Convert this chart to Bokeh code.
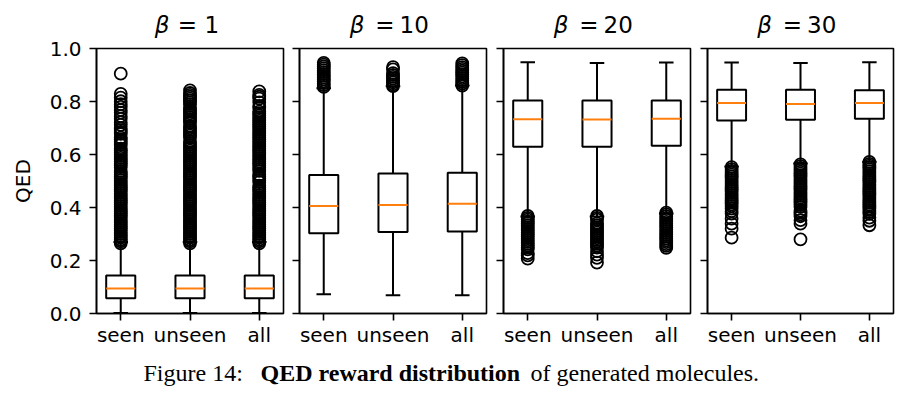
import numpy as np
from bokeh.plotting import figure
from bokeh.layouts import row, column
from bokeh.models import Range1d, FixedTicker, Label, CustomJSTickFormatter
from bokeh.embed import file_html
from bokeh.resources import INLINE

# ---------------- data ----------------
categories = ["seen", "unseen", "all"]
positions = [1, 2, 3]
betas = [1, 10, 20, 30]
y_ticks = [0.0, 0.2, 0.4, 0.6, 0.8, 1.0]
y_tick_labels = ["0.0", "0.2", "0.4", "0.6", "0.8", "1.0"]

# beta = 1
b1_q1 = [0.058, 0.058, 0.058]
b1_med = [0.094, 0.094, 0.094]
b1_q3 = [0.143, 0.143, 0.143]
b1_lo = [0.002, 0.002, 0.002]
b1_hi = [0.270, 0.270, 0.270]
b1_seen_fl = [0.265, 0.272, 0.279, 0.286, 0.293, 0.300, 0.307, 0.314, 0.321, 0.328, 0.335, 0.342,
              0.349, 0.356, 0.363, 0.370, 0.377, 0.384, 0.391, 0.398, 0.405, 0.412, 0.419, 0.426,
              0.433, 0.440, 0.447, 0.454, 0.461, 0.468, 0.475, 0.482, 0.489, 0.496, 0.503, 0.510,
              0.517, 0.524, 0.531, 0.538, 0.552, 0.559, 0.566, 0.573, 0.580, 0.587, 0.594, 0.601,
              0.608, 0.615, 0.622, 0.636, 0.643, 0.650, 0.657, 0.664, 0.678, 0.685, 0.692, 0.699,
              0.712, 0.722, 0.735, 0.745, 0.758, 0.768, 0.780, 0.790, 0.801, 0.815, 0.829, 0.905]
b1_unseen_fl = [0.265, 0.272, 0.279, 0.286, 0.293, 0.300, 0.307, 0.314, 0.321, 0.328, 0.335, 0.342,
                0.349, 0.356, 0.363, 0.370, 0.377, 0.384, 0.391, 0.398, 0.405, 0.412, 0.419, 0.426,
                0.433, 0.440, 0.447, 0.454, 0.461, 0.468, 0.475, 0.482, 0.489, 0.496, 0.503, 0.510,
                0.517, 0.524, 0.531, 0.538, 0.545, 0.552, 0.559, 0.566, 0.573, 0.580, 0.587, 0.594,
                0.601, 0.608, 0.615, 0.622, 0.629, 0.636, 0.643, 0.650, 0.664, 0.671, 0.678, 0.685,
                0.692, 0.699, 0.706, 0.720, 0.727, 0.734, 0.741, 0.748, 0.755, 0.762, 0.769, 0.776,
                0.790, 0.797, 0.804, 0.811, 0.818, 0.825, 0.832, 0.842]
b1_all_fl = [0.265, 0.272, 0.279, 0.286, 0.293, 0.300, 0.307, 0.314, 0.321, 0.328, 0.335, 0.342,
             0.349, 0.356, 0.363, 0.370, 0.377, 0.384, 0.391, 0.398, 0.405, 0.412, 0.419, 0.426,
             0.433, 0.440, 0.447, 0.454, 0.461, 0.468, 0.475, 0.482, 0.496, 0.503, 0.510, 0.517,
             0.524, 0.538, 0.545, 0.552, 0.559, 0.566, 0.573, 0.580, 0.587, 0.594, 0.601, 0.608,
             0.615, 0.622, 0.629, 0.636, 0.643, 0.650, 0.657, 0.664, 0.671, 0.678, 0.685, 0.692,
             0.699, 0.706, 0.713, 0.720, 0.727, 0.734, 0.741, 0.748, 0.755, 0.762, 0.776, 0.783,
             0.797, 0.811, 0.818, 0.825, 0.838]

# beta = 10
b10_q1 = [0.303, 0.308, 0.309]
b10_med = [0.406, 0.409, 0.414]
b10_q3 = [0.523, 0.528, 0.531]
b10_lo = [0.073, 0.069, 0.069]
b10_hi = [0.850, 0.858, 0.860]
b10_seen_fl = [0.855, 0.862, 0.869, 0.876, 0.883, 0.890, 0.897, 0.904, 0.911, 0.918, 0.925, 0.932,
               0.939, 0.946]
b10_unseen_fl = [0.858, 0.865, 0.872, 0.879, 0.886, 0.893, 0.900, 0.907, 0.921, 0.930]
b10_all_fl = [0.860, 0.867, 0.874, 0.881, 0.888, 0.895, 0.902, 0.909, 0.916, 0.923, 0.930, 0.937,
              0.944]

# beta = 20
b20_q1 = [0.629, 0.629, 0.633]
b20_med = [0.733, 0.732, 0.735]
b20_q3 = [0.804, 0.804, 0.804]
b20_lo = [0.366, 0.366, 0.377]
b20_hi = [0.948, 0.945, 0.947]
b20_seen_fl = [0.368, 0.361, 0.354, 0.347, 0.340, 0.333, 0.326, 0.319, 0.312, 0.305, 0.298, 0.291,
               0.284, 0.277, 0.270, 0.263, 0.256, 0.249, 0.242, 0.228, 0.219, 0.207]
b20_unseen_fl = [0.368, 0.361, 0.354, 0.340, 0.333, 0.326, 0.319, 0.312, 0.305, 0.298, 0.291, 0.284,
                 0.277, 0.270, 0.263, 0.256, 0.249, 0.235, 0.222, 0.210, 0.192]
b20_all_fl = [0.381, 0.374, 0.367, 0.360, 0.353, 0.346, 0.339, 0.332, 0.325, 0.318, 0.311, 0.304,
              0.297, 0.290, 0.283, 0.276, 0.269, 0.262, 0.255, 0.248]

# beta = 30
b30_q1 = [0.728, 0.731, 0.735]
b30_med = [0.794, 0.791, 0.794]
b30_q3 = [0.844, 0.844, 0.842]
b30_lo = [0.555, 0.566, 0.573]
b30_hi = [0.947, 0.945, 0.948]
b30_seen_fl = [0.552, 0.545, 0.538, 0.531, 0.524, 0.517, 0.510, 0.503, 0.496, 0.489, 0.482, 0.475,
               0.468, 0.461, 0.454, 0.447, 0.440, 0.433, 0.426, 0.419, 0.412, 0.405, 0.396, 0.386,
               0.377, 0.358, 0.339, 0.320, 0.286]
b30_unseen_fl = [0.563, 0.556, 0.549, 0.542, 0.535, 0.528, 0.521, 0.514, 0.507, 0.500, 0.493, 0.486,
                 0.479, 0.472, 0.465, 0.458, 0.451, 0.444, 0.437, 0.430, 0.423, 0.416, 0.409, 0.402,
                 0.388, 0.381, 0.374, 0.367, 0.352, 0.339, 0.280]
b30_all_fl = [0.572, 0.565, 0.558, 0.551, 0.544, 0.537, 0.530, 0.523, 0.516, 0.509, 0.502, 0.495,
              0.488, 0.481, 0.474, 0.467, 0.460, 0.453, 0.446, 0.439, 0.432, 0.425, 0.418, 0.411,
              0.404, 0.397, 0.390, 0.383, 0.376, 0.362, 0.350, 0.333]

y_label = "QED"
caption_parts = ["Figure 14:", "QED reward distribution", "of generated molecules."]

panels = [
    dict(beta=betas[0], q1=b1_q1, med=b1_med, q3=b1_q3, lo=b1_lo, hi=b1_hi,
         fliers=[b1_seen_fl, b1_unseen_fl, b1_all_fl]),
    dict(beta=betas[1], q1=b10_q1, med=b10_med, q3=b10_q3, lo=b10_lo, hi=b10_hi,
         fliers=[b10_seen_fl, b10_unseen_fl, b10_all_fl]),
    dict(beta=betas[2], q1=b20_q1, med=b20_med, q3=b20_q3, lo=b20_lo, hi=b20_hi,
         fliers=[b20_seen_fl, b20_unseen_fl, b20_all_fl]),
    dict(beta=betas[3], q1=b30_q1, med=b30_med, q3=b30_q3, lo=b30_lo, hi=b30_hi,
         fliers=[b30_seen_fl, b30_unseen_fl, b30_all_fl]),
]

# ---------------- style / layout ----------------
FONT = "DejaVu Sans"
SERIF = "Liberation Serif"
BOX_W = 0.42
CAP_W = 0.21
ORANGE = "#ff7f0e"
borders = [(96, 3), (13, 3), (14, 3), (14, 10)]
frame_w = [187, 187, 187, 186]
TITLE_H = 38
TOP, FRAME_H, BOTTOM = 10, 265, 38
CAP_H = 42

figs = []
centers = []
xcur = 0
for i, pan in enumerate(panels):
    bl, br = borders[i]
    centers.append(xcur + bl + frame_w[i] / 2)
    xcur += bl + frame_w[i] + br
    p = figure(width=bl + frame_w[i] + br, height=TOP + FRAME_H + BOTTOM, title=None,
               x_range=Range1d(0.65, 3.35), y_range=Range1d(0, 1),
               output_backend="svg", toolbar_location=None,
               min_border_left=bl, min_border_right=br,
               min_border_top=TOP, min_border_bottom=BOTTOM)
    p.grid.visible = False
    p.outline_line_color = "black"
    p.outline_line_width = 1.6
    p.outline_line_alpha = 1.0
    p.background_fill_color = "white"
    p.border_fill_color = "white"
    for ax in (p.xaxis[0], p.yaxis[0]):
        ax.axis_line_width = 1.6
        ax.axis_line_color = "black"
        ax.major_tick_line_width = 1.6
        ax.major_tick_line_color = "black"
        ax.major_tick_in = 0
        ax.major_tick_out = 7
        ax.minor_tick_line_color = None
        ax.major_label_text_font = FONT
        ax.major_label_text_font_size = "20px"
        ax.major_label_text_color = "black"
    p.xaxis.ticker = FixedTicker(ticks=positions)
    p.xaxis.major_label_overrides = {pos: c for pos, c in zip(positions, categories)}
    p.xaxis.major_label_standoff = 2
    p.yaxis.ticker = FixedTicker(ticks=y_ticks)
    if i == 0:
        p.yaxis.major_label_overrides = {t: l for t, l in zip(y_ticks, y_tick_labels)}
        p.yaxis.major_label_standoff = 8
        p.yaxis.axis_label = y_label
        p.yaxis.axis_label_text_font = FONT
        p.yaxis.axis_label_text_font_size = "20px"
        p.yaxis.axis_label_text_font_style = "normal"
        p.yaxis.axis_label_text_color = "black"
        p.yaxis.axis_label_standoff = 12
    else:
        p.yaxis.formatter = CustomJSTickFormatter(code="return ''")
        p.yaxis.major_label_standoff = 0

    x = np.array(positions, dtype=float)
    lo, q1, med, q3, hi = (np.array(pan[k]) for k in ("lo", "q1", "med", "q3", "hi"))
    # whiskers
    p.segment(x, lo, x, q1, line_color="black", line_width=2)
    p.segment(x, q3, x, hi, line_color="black", line_width=2)
    # caps
    p.segment(x - CAP_W / 2, lo, x + CAP_W / 2, lo, line_color="black", line_width=2)
    p.segment(x - CAP_W / 2, hi, x + CAP_W / 2, hi, line_color="black", line_width=2)
    # boxes
    p.quad(left=x - BOX_W / 2, right=x + BOX_W / 2, bottom=q1, top=q3,
           fill_color=None, line_color="black", line_width=2)
    # medians
    p.segment(x - BOX_W / 2, med, x + BOX_W / 2, med, line_color=ORANGE, line_width=2)
    # fliers
    for pos, fl in zip(positions, pan["fliers"]):
        p.scatter([pos] * len(fl), fl, marker="circle", size=12, fill_color=None,
                  line_color="black", line_width=1.8)
    figs.append(p)

total_w = xcur

# title strip (panel titles: italic beta, "=", number)
tstrip = figure(width=total_w, height=TITLE_H, title=None,
                x_range=Range1d(0, total_w), y_range=Range1d(0, TITLE_H),
                output_backend="svg", toolbar_location=None, min_border=0)
tstrip.axis.visible = False
tstrip.grid.visible = False
tstrip.outline_line_color = None
tstrip.border_fill_color = "white"
TITLE_Y = 14
TITLE_FS = "23px"
for pan, cx in zip(panels, centers):
    if pan["beta"] < 10:
        ob, oe, on = -20.5, -2.5, 14.5
    else:
        ob, oe, on = -28.5, -8.0, 6.5
    tstrip.add_layout(Label(x=cx + ob, y=TITLE_Y, text="β",
                            text_font=FONT, text_font_style="italic", text_font_size=TITLE_FS,
                            text_align="right", text_baseline="alphabetic", text_color="black"))
    tstrip.add_layout(Label(x=cx + oe, y=TITLE_Y, text="=",
                            text_font=FONT, text_font_size=TITLE_FS,
                            text_align="center", text_baseline="alphabetic", text_color="black"))
    tstrip.add_layout(Label(x=cx + on, y=TITLE_Y, text=str(pan["beta"]),
                            text_font=FONT, text_font_size=TITLE_FS,
                            text_align="left", text_baseline="alphabetic", text_color="black"))

# caption
cap = figure(width=total_w, height=CAP_H, title=None,
             x_range=Range1d(0, total_w), y_range=Range1d(0, CAP_H),
             output_backend="svg", toolbar_location=None, min_border=0)
cap.axis.visible = False
cap.grid.visible = False
cap.outline_line_color = None
cap.border_fill_color = "white"
cap_x = [143, 260, 530]
cap_style = ["normal", "bold", "normal"]
for txt, cx, st in zip(caption_parts, cap_x, cap_style):
    cap.add_layout(Label(x=cx, y=21, text=txt, text_font=SERIF, text_font_size="24px",
                         text_font_style=st, text_align="left", text_baseline="alphabetic",
                         text_color="black"))

layout = column(tstrip, row(*figs), cap)
open("out.html", "w").write(file_html(layout, INLINE))
